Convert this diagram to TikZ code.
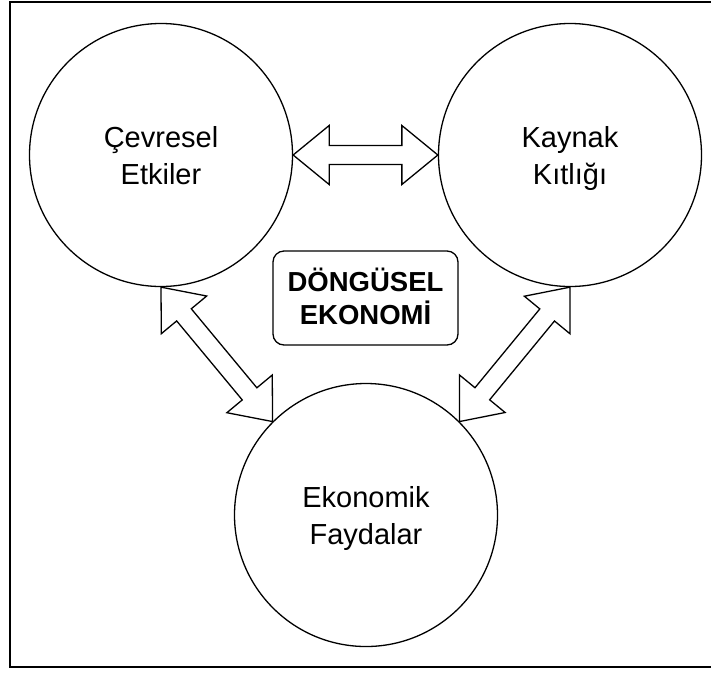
\documentclass[tikz,border=0pt]{standalone}
\usepackage{fontspec}
\setmainfont{Liberation Sans}
\usetikzlibrary{calc}
\tikzset{
  bubble/.style={circle, draw, line width=1.3pt, minimum size=263pt, inner sep=0pt,
    align=center, font=\fontsize{29}{37}\selectfont, text height=58pt, text depth=0pt},
  titlebox/.style={draw, line width=1.3pt, rounded corners=11pt, minimum width=185pt,
    minimum height=94pt, inner sep=0pt, align=center,
    font=\fontsize{27.5}{33}\selectfont\bfseries, text height=53pt, text depth=0pt},
  flexarrow/.style={draw, line width=1.3pt, fill=white, line join=miter},
  frameline/.style={draw, line width=2pt}
}
\newcommand\ah{36pt}
\newcommand\aH{29.5pt}
\newcommand\aw{9.5pt}
\newcommand\dblarrow[2]{%
  \coordinate (hA) at ($(#1)!\ah!(#2)$);
  \coordinate (hB) at ($(#2)!\ah!(#1)$);
  \path[flexarrow] (#1)
    -- ($(hA)!\aH!90:(#2)$) -- ($(hA)!\aw!90:(#2)$)
    -- ($(hB)!\aw!-90:(#1)$) -- ($(hB)!\aH!-90:(#1)$)
    -- (#2)
    -- ($(hB)!\aH!90:(#1)$) -- ($(hB)!\aw!90:(#1)$)
    -- ($(hA)!\aw!-90:(#2)$) -- ($(hA)!\aH!-90:(#2)$)
    -- cycle;}
\begin{document}
\begin{tikzpicture}[x=1pt,y=-1pt]
\useasboundingbox (0,0) rectangle (711,673);
\path[frameline] (10,2) rectangle (740,667);
\node[bubble] (L) at (161,155) {Çevresel\\Etkiler};
\node[bubble] (R) at (570,155) {Kaynak\\Kıtlığı};
\node[bubble] (B) at (366,515) {Ekonomik\\Faydalar};
\node[titlebox] (T) at (365.5,298) {DÖNGÜSEL\\EKONOMİ};
\coordinate (a1) at (L.east);
\coordinate (b1) at (R.west);
\coordinate (a2) at (L.270);
\coordinate (b2) at (B.135);
\coordinate (a3) at (R.270);
\coordinate (b3) at (B.45);
\dblarrow{a1}{b1}
\dblarrow{a2}{b2}
\dblarrow{a3}{b3}
\end{tikzpicture}
\end{document}
